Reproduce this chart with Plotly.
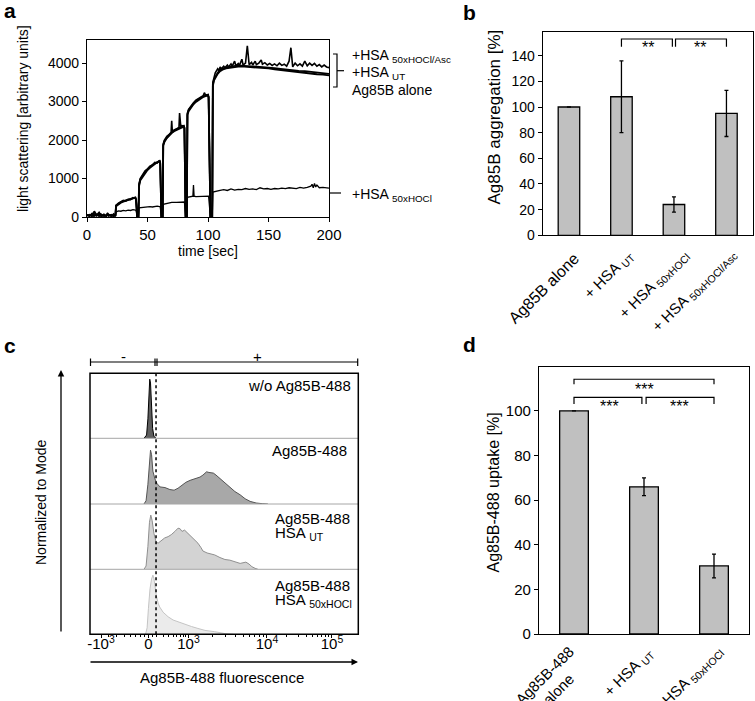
import plotly.graph_objects as go

W, H = 755, 701
FONT = "Liberation Sans, Arial, sans-serif"


def px(x):
    return x / W


def py(y):
    return 1 - y / H


# ---------------- Panel a: light scattering time courses ----------------
t_ab = [0, 2, 4, 5, 6, 8, 10, 11, 12, 14, 16, 17, 18, 20, 22, 23.5,
        24, 26, 28, 30, 32, 34, 36, 38, 40, 40.5, 41.5, 42.5,
        43, 44, 46, 48, 50, 52, 54, 56, 58, 60, 60.5, 61.5, 62.5,
        63, 64, 66, 68, 70, 72, 74, 76, 78, 80, 80.5, 81.5, 82.5,
        83, 84, 86, 88, 90, 92, 94, 96, 98, 100, 100.5, 102, 103.5,
        104, 105, 106, 108, 110, 112, 115, 120, 125, 130, 135, 140, 145, 150,
        155, 160, 165, 170, 175, 180, 185, 190, 195, 200]
y_alone = [40, 60, 20, 110, 30, 70, 20, 90, 30, 60, 20, 80, 40, 50, 30, 40,
           280, 330, 370, 400, 420, 440, 460, 480, 500, 450, 0, 0,
           800, 950, 1050, 1150, 1220, 1280, 1330, 1380, 1420, 1450, 1400, 0, 0,
           1850, 1950, 2050, 2120, 2180, 2230, 2260, 2300, 2330, 2350, 2300, 0, 0,
           2650, 2750, 2850, 2930, 2990, 3040, 3080, 3120, 3140, 3160, 3100, 0, 0,
           3400, 3550, 3620, 3720, 3790, 3830, 3860, 3890, 3910, 3910, 3900, 3890, 3880, 3860,
           3840, 3820, 3800, 3790, 3770, 3750, 3730, 3710, 3700, 3680]
y_ut = [40, 30, 60, 20, 150, 40, 80, 30, 60, 20, 40, 100, 30, 60, 20, 50,
        300, 350, 390, 410, 440, 450, 470, 490, 510, 460, 0, 0,
        830, 980, 1080, 1170, 1240, 1300, 1350, 1390, 1430, 1460, 1410, 0, 0,
        1870, 1980, 2070, 2140, 2200, 2250, 2280, 2320, 2350, 2370, 2320, 0, 0,
        2680, 2780, 2870, 2950, 3010, 3060, 3100, 3130, 3160, 3180, 3120, 0, 0,
        3450, 3580, 3650, 3750, 3820, 3860, 3890, 3920, 3940, 3930, 3920, 3910, 3900, 3890,
        3870, 3850, 3830, 3820, 3800, 3790, 3770, 3750, 3730, 3720]

t_asc = [0, 2, 4, 6, 8, 10, 12, 14, 16, 18, 20, 22, 23.5,
         24, 26, 28, 30, 32, 34, 36, 38, 40, 40.5, 41.5, 42.5,
         43, 44, 46, 48, 50, 52, 54, 56, 58, 60, 60.5, 61.5, 62.5,
         63, 64, 66, 68, 69.5, 70, 70.5, 72, 74, 76, 76.5, 77, 77.5, 78, 80, 80.5, 81.5, 82.5,
         83, 84, 86, 88, 90, 92, 94, 96, 97, 98, 100, 100.5, 102, 103.5,
         104, 105, 106, 108, 109, 110, 111, 113, 114, 116, 117, 119, 120, 122, 123,
         125, 126, 128, 129, 131, 132.5, 134, 136, 137, 139, 140, 142, 144, 145, 147,
         149, 151, 153, 155, 157, 159, 161, 163, 165, 167, 168.5, 170, 172, 174, 176,
         178, 180, 182, 184, 186, 188, 190, 192, 194, 196, 198, 200]
y_asc = [60, 20, 90, 30, 50, 120, 20, 70, 30, 60, 20, 80, 30,
         300, 360, 400, 430, 410, 460, 450, 500, 480, 460, 0, 0,
         850, 1000, 1100, 1200, 1250, 1320, 1350, 1420, 1400, 1470, 1420, 0, 0,
         1900, 2000, 2100, 2150, 2200, 2500, 2230, 2260, 2300, 2320, 2700, 2400, 2350, 2380, 2360, 2320, 0, 0,
         2700, 2800, 2900, 2970, 3040, 3080, 3120, 3150, 3230, 3170, 3180, 3120, 0, 0,
         3500, 3650, 3750, 3850, 3800, 3900, 3850, 3920, 3880, 3950, 3900, 3980, 3920, 4050, 3930,
         3990, 3940, 4100, 3950, 4000, 4450, 3960, 4020, 3950, 4050, 3960, 4000, 4080, 3970, 4010,
         3950, 3990, 3940, 3980, 3930, 4000, 3940, 3970, 3920, 4050, 4400, 3900, 4000, 3930, 3980,
         3920, 4050, 3930, 4000, 3940, 3990, 3920, 3960, 3900, 3950, 3900, 3880]

t_hocl = [0, 2, 4, 5, 6, 8, 10, 12, 14, 16, 18, 20, 22, 23.5,
          24, 26, 28, 30, 32, 34, 36, 38, 40, 40.5, 41.5, 42.5,
          43, 46, 48, 50, 52, 54, 56, 58, 60, 60.5, 61.5, 62.5,
          63, 66, 70, 74, 78, 80, 80.5, 81.5, 82.5,
          83, 86, 87.5, 88, 88.5, 90, 94, 98, 100, 100.5, 102, 103.5,
          104, 106, 110, 113, 116, 119, 122, 125, 128, 131, 134, 137, 140, 143,
          146, 149, 152, 155, 158, 161, 164, 167, 170, 173, 176, 179, 182, 185,
          186, 187, 188, 189, 190, 192, 195, 198, 200]
y_hocl = [50, 30, 80, 20, 60, 30, 90, 20, 50, 30, 70, 20, 40, 30,
          130, 160, 150, 170, 160, 180, 170, 190, 180, 180, 0, 0,
          240, 250, 270, 260, 270, 260, 270, 280, 270, 270, 0, 0,
          330, 360, 380, 380, 390, 390, 390, 0, 0,
          510, 530, 540, 830, 540, 530, 540, 540, 540, 540, 0, 0,
          650, 670, 690, 710, 690, 730, 700, 720, 710, 740, 720, 730, 710, 760,
          730, 740, 720, 740, 730, 750, 740, 760, 750, 740, 770, 750, 770, 800,
          850, 760, 870, 780, 830, 760, 770, 750, 750]

# ---------------- Panel b: aggregation bars ----------------
cat_b = ["Ag85B alone", "+ HSA <sub>UT</sub>", "+ HSA <sub>50xHOCl</sub>",
         "+ HSA <sub>50xHOCl/Asc</sub>"]
val_b = [100, 108, 24, 95]
err_b = [0, 28, 6, 18]

# ---------------- Panel c: flow cytometry histograms (display channel units) ----------------
c_tickvals = [42, 223, 376, 675.5, 923.6]
c_ticktext = ["-10<sup>3</sup>", "0", "10<sup>3</sup>", "10<sup>4</sup>", "10<sup>5</sup>"]
c_minor = [70, 100, 130, 155, 175, 193, 208, 238, 253, 280, 300, 318, 332, 345, 356, 366,
           466, 519, 556, 585, 609, 629, 646, 661,
           750, 794, 825, 849, 869, 885, 900, 912]
gate_ch = 252

h1_x = [206, 216, 221, 225, 228, 231, 235, 239, 244, 252]
h1_y = [0, 0.05, 0.3, 0.75, 0.91, 0.85, 0.45, 0.15, 0.03, 0]
h2_x = [206, 214, 221, 227, 231, 235, 240, 248, 256, 267, 286, 305, 321, 336, 351, 366, 382,
        401, 420, 431, 445, 454, 471, 481, 496, 515, 534, 553, 573, 592, 611, 634, 657, 679]
h2_y = [0, 0.05, 0.3, 0.7, 0.82, 0.75, 0.5, 0.38, 0.31, 0.26, 0.25, 0.22, 0.21, 0.24, 0.29,
        0.33, 0.36, 0.39, 0.41, 0.44, 0.49, 0.48, 0.47, 0.44, 0.39, 0.32, 0.26, 0.19, 0.14,
        0.08, 0.04, 0.015, 0.005, 0]
h3_x = [206, 214, 221, 227, 232, 237, 244, 252, 260, 271, 285, 298, 310, 324, 336, 344, 351,
        361, 374, 387, 401, 412, 424, 431, 447, 462, 476, 496, 515, 534, 553, 573, 584, 595,
        607, 618, 630, 641]
h3_y = [0, 0.05, 0.35, 0.72, 0.83, 0.75, 0.55, 0.42, 0.40, 0.44, 0.48, 0.50, 0.53, 0.58, 0.63,
        0.62, 0.58, 0.60, 0.55, 0.50, 0.44, 0.40, 0.33, 0.28, 0.25, 0.23, 0.22, 0.18, 0.15,
        0.14, 0.11, 0.09, 0.10, 0.11, 0.08, 0.04, 0.015, 0]
h4_x = [212, 218, 223, 229, 235, 240, 244, 248, 253, 260, 266, 279, 298, 317, 336, 363, 387,
        412, 439, 476, 496, 519, 546]
h4_y = [0, 0.1, 0.4, 0.7, 0.85, 0.91, 0.86, 0.72, 0.6, 0.48, 0.42, 0.34, 0.27, 0.22, 0.19,
        0.15, 0.12, 0.09, 0.06, 0.04, 0.02, 0.008, 0]

# ---------------- Panel d: uptake bars ----------------
cat_d = ["Ag85B-488<br>alone", "+ HSA <sub>UT</sub>", "+ HSA <sub>50xHOCl</sub>"]
val_d = [100, 66, 30.5]
err_d = [0, 4, 5.3]

fig = go.Figure()

# panel a traces
fig.add_trace(go.Scatter(x=t_hocl, y=y_hocl, mode="lines", line=dict(color="black", width=1.3),
                         xaxis="x", yaxis="y", showlegend=False))
fig.add_trace(go.Scatter(x=t_ab, y=y_alone, mode="lines", line=dict(color="black", width=1.8),
                         xaxis="x", yaxis="y", showlegend=False))
fig.add_trace(go.Scatter(x=t_ab, y=y_ut, mode="lines", line=dict(color="black", width=1.8),
                         xaxis="x", yaxis="y", showlegend=False))
fig.add_trace(go.Scatter(x=t_asc, y=y_asc, mode="lines", line=dict(color="black", width=1.6),
                         xaxis="x", yaxis="y", showlegend=False))

# panel b bars
fig.add_trace(go.Bar(x=cat_b, y=val_b, marker=dict(color="#c0c0c0", line=dict(color="black", width=1.3)),
                     error_y=dict(type="data", array=err_b, color="black", thickness=1.3, width=2),
                     xaxis="x2", yaxis="y2", showlegend=False))

# panel c histograms
hist = [(h1_x, h1_y, "#5e5e5e", "#000000", "y3"),
        (h2_x, h2_y, "#a8a8a8", "#555555", "y4"),
        (h3_x, h3_y, "#d3d3d3", "#8f8f8f", "y5"),
        (h4_x, h4_y, "#ebebeb", "#c4c4c4", "y6")]
for hx, hy, fc, lc, ya in hist:
    fig.add_trace(go.Scatter(x=hx, y=hy, mode="lines", fill="tozeroy", fillcolor=fc,
                             line=dict(color=lc, width=1), xaxis="x3", yaxis=ya, showlegend=False))

# panel d bars
fig.add_trace(go.Bar(x=cat_d, y=val_d, marker=dict(color="#c0c0c0", line=dict(color="black", width=1.3)),
                     error_y=dict(type="data", array=err_d, color="black", thickness=1.3, width=2),
                     xaxis="x4", yaxis="y7", showlegend=False))

base = dict(showgrid=False, zeroline=False, automargin=False)
axis_common = dict(linecolor="black", linewidth=1.2, ticks="outside", tickcolor="black",
                   tickwidth=1.2, ticklen=4, **base)


def tf(size):
    return dict(family=FONT, size=size, color="black")


rows_c = [(373.3, 438.3), (438.3, 504), (504, 569.3), (569.3, 634.3)]

fig.update_layout(
    template="none",
    width=W, height=H, autosize=False, margin=dict(l=0, r=0, t=0, b=0, pad=0),
    paper_bgcolor="white", plot_bgcolor="white",
    font=dict(family=FONT, color="black"),
    bargap=0.59,
    xaxis=dict(domain=[px(87), px(329)], anchor="y", range=[0, 200], tickvals=[0, 50, 100, 150, 200],
               mirror=True, tickfont=tf(15), **axis_common),
    yaxis=dict(domain=[py(217), py(40)], anchor="x", range=[0, 4600], tickvals=[0, 1000, 2000, 3000, 4000],
               mirror=True, tickfont=tf(14), **axis_common),
    xaxis2=dict(domain=[px(542.7), px(752.7)], anchor="y2", type="category", mirror=True,
                range=[-0.5, 3.5], categoryorder="array", categoryarray=cat_b,
                showticklabels=False, linecolor="black", linewidth=1.3, ticks="", **base),
    yaxis2=dict(domain=[py(235.3), py(31.7)], anchor="x2", range=[0, 158.7],
                tickvals=[0, 20, 40, 60, 80, 100, 120, 140], mirror=True, tickfont=tf(14), **axis_common),
    xaxis3=dict(domain=[px(90), px(358.3)], anchor="y6", range=[0, 1024],
                showline=False, tickvals=c_tickvals, ticktext=c_ticktext, ticks="outside", ticklen=3,
                tickcolor="black", tickwidth=1, ticklabelstandoff=-7,
                minor=dict(tickvals=c_minor, ticks="outside", ticklen=2, tickcolor="black", tickwidth=0.8),
                tickfont=tf(15), **base),
    yaxis3=dict(domain=[py(rows_c[0][1]), py(rows_c[0][0])], anchor="x3", range=[0, 1], visible=False, **base),
    yaxis4=dict(domain=[py(rows_c[1][1]), py(rows_c[1][0])], anchor="x3", range=[0, 1], visible=False, **base),
    yaxis5=dict(domain=[py(rows_c[2][1]), py(rows_c[2][0])], anchor="x3", range=[0, 1], visible=False, **base),
    yaxis6=dict(domain=[py(rows_c[3][1]), py(rows_c[3][0])], anchor="x3", range=[0, 1], visible=False, **base),
    xaxis4=dict(domain=[px(539), px(749)], anchor="y7", type="category", mirror=True,
                range=[-0.5, 2.5], categoryorder="array", categoryarray=cat_d,
                showticklabels=False, linecolor="black", linewidth=1.3, ticks="", **base),
    yaxis7=dict(domain=[py(634), py(367)], anchor="x4", range=[0, 119.7],
                tickvals=[0, 20, 40, 60, 80, 100], mirror=True, tickfont=tf(15), **axis_common),
)

shapes = []
L = dict(color="black", width=1.2)
# panel a label connectors
shapes.append(dict(type="path", xref="paper", yref="paper",
                   path=f"M {px(333)} {py(54)} L {px(337)} {py(54)} L {px(337)} {py(87)} L {px(333)} {py(87)}",
                   line=L))
shapes.append(dict(type="line", xref="paper", yref="paper", x0=px(337), x1=px(344), y0=py(70.7), y1=py(70.7), line=L))
shapes.append(dict(type="line", xref="paper", yref="paper", x0=px(329), x1=px(341), y0=py(193), y1=py(193), line=L))

# panel b significance brackets
for x0, x1 in [(1.0, 1.97), (2.03, 3.0)]:
    shapes.append(dict(type="path", xref="x2", yref="y2",
                       path=f"M {x0} 147 L {x0} 153 L {x1} 153 L {x1} 147", line=L))
# panel d significance brackets
shapes.append(dict(type="path", xref="x4", yref="y7", path="M 0 112 L 0 114.2 L 2 114.2 L 2 112", line=L))
for x0, x1 in [(0.0, 0.97), (1.03, 2.0)]:
    shapes.append(dict(type="path", xref="x4", yref="y7",
                       path=f"M {x0} 103.1 L {x0} 106.1 L {x1} 106.1 L {x1} 103.1", line=L))

# panel c frame, dividers, gate line, +/- bar
for top, bot in rows_c[1:]:
    shapes.append(dict(type="line", xref="paper", yref="paper", x0=px(90), x1=px(358.3),
                       y0=py(top), y1=py(top), line=dict(color="#a6a6a6", width=1)))
shapes.append(dict(type="line", xref="x3", yref="paper", x0=gate_ch, x1=gate_ch,
                   y0=py(634.3), y1=py(373.3), line=dict(color="black", width=1.5, dash="dot")))
shapes.append(dict(type="rect", xref="paper", yref="paper", x0=px(90), x1=px(358.3),
                   y0=py(634.3), y1=py(373.3), line=dict(color="black", width=1.5)))
shapes.append(dict(type="line", xref="paper", yref="paper", x0=px(90), x1=px(358), y0=py(362), y1=py(362), line=L))
for xx in [90.5, 155, 157, 357.7]:
    shapes.append(dict(type="line", xref="paper", yref="paper", x0=px(xx), x1=px(xx),
                       y0=py(358.5), y1=py(366), line=L))

fig.update_layout(shapes=shapes)

ann = []


def text(x, y, s, size=14, xanchor="center", yanchor="middle", angle=0, bold=False):
    ann.append(dict(x=px(x), y=py(y), xref="paper", yref="paper", text=(f"<b>{s}</b>" if bold else s),
                    showarrow=False, xanchor=xanchor, yanchor=yanchor, textangle=angle,
                    font=dict(family=FONT, size=size, color="black")))


# panel letters
text(10, 11, "a", 21, bold=True)
text(470, 12, "b", 21, bold=True)
text(10, 346, "c", 21, bold=True)
text(470, 344, "d", 21, bold=True)

# panel a
text(23, 119, "light scattering [arbitrary units]", 14, angle=-90)
text(208, 251, "time [sec]", 14)
text(350, 56, "+HSA <sub>50xHOCl/Asc</sub>", 14, xanchor="left")
text(350, 73, "+HSA <sub>UT</sub>", 14, xanchor="left")
text(350, 90, "Ag85B alone", 14, xanchor="left")
text(350, 195, "+HSA <sub>50xHOCl</sub>", 14, xanchor="left")

# panel b
text(494, 117.5, "Ag85B aggregation [%]", 17, angle=-90)
for xx in [1.5, 2.5]:
    ann.append(dict(x=xx, y=146, xref="x2", yref="y2", text="**", showarrow=False, yanchor="middle",
                    font=dict(family=FONT, size=16, color="black")))
# rotated category labels of panel b (top-right corner of each rotated label box)
b_lab_pos = [(16, 247, 16), (19, 243, 15), (21, 243, 15), (16, 242, 15)]
for cat, (dx, ty, fs) in zip(cat_b, b_lab_pos):
    ann.append(dict(x=cat, y=py(ty), xref="x2", yref="paper", text=cat, showarrow=False,
                    xanchor="right", yanchor="top", xshift=dx, textangle=-45,
                    font=dict(family=FONT, size=fs, color="black")))

# panel d
text(493, 492.5, "Ag85B-488 uptake [%]", 16, angle=-90)
for xx, yy in [(1.0, 109.5), (0.5, 102), (1.5, 102)]:
    ann.append(dict(x=xx, y=yy, xref="x4", yref="y7", text="***", showarrow=False, yanchor="middle",
                    font=dict(family=FONT, size=16, color="black")))
d_lab_pos = [(20, 640), (16, 641), (15, 639)]
for cat, (dx, ty) in zip(cat_d, d_lab_pos):
    ann.append(dict(x=cat, y=py(ty), xref="x4", yref="paper", text=cat, showarrow=False,
                    xanchor="right", yanchor="top", xshift=dx, textangle=-45,
                    font=dict(family=FONT, size=15, color="black")))

# panel c
text(41, 503, "Normalized to Mode", 14, angle=-90)
text(222, 677, "Ag85B-488 fluorescence", 15)
text(123, 356, "-", 15)
text(257, 356, "+", 15)
text(353, 385, "w/o Ag85B-488", 15, xanchor="right")
text(349, 450, "Ag85B-488", 15, xanchor="right")
text(273, 518, "Ag85B-488", 15, xanchor="left")
text(273, 533, "HSA <sub>UT</sub>", 15, xanchor="left")
text(273, 585, "Ag85B-488", 15, xanchor="left")
text(273, 600, "HSA <sub>50xHOCl</sub>", 15, xanchor="left")

# arrows in panel c
ann.append(dict(x=px(61), y=py(370), xref="paper", yref="paper", text="", showarrow=True,
                ax=0, ay=263, arrowhead=2, arrowsize=1, arrowwidth=1.3, arrowcolor="black"))
ann.append(dict(x=px(358), y=py(662), xref="paper", yref="paper", text="", showarrow=True,
                ax=-269, ay=0, arrowhead=2, arrowsize=1, arrowwidth=1.3, arrowcolor="black"))

fig.update_layout(annotations=ann)

fig.write_html("out.html", config={"displayModeBar": False},
               post_script="document.body.style.margin='0';")
